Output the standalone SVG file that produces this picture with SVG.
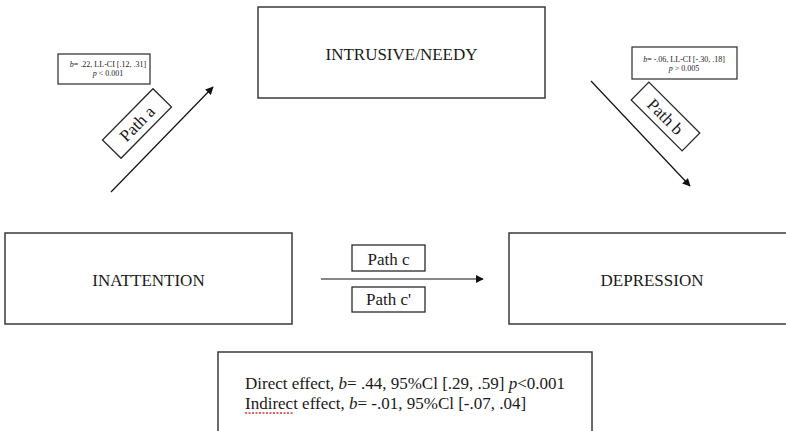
<svg xmlns="http://www.w3.org/2000/svg" width="786" height="431" viewBox="0 0 786 431">
  <style>
    .node { fill: #ffffff; stroke: #3a3a3a; stroke-width: 1.5; }
    .lbl { fill: #ffffff; stroke: #2a2a2a; stroke-width: 1.3; }
    .info { fill: #ffffff; stroke: #2a2a2a; stroke-width: 1.2; }
    .t { font-family: "Liberation Serif", "Times New Roman", serif; fill: #1a1a1a; }
    .big { font-size: 17px; }
    .small { font-size: 8px; }
    .conn { stroke: #111111; stroke-width: 1.2; fill: none; marker-end: url(#arr); }
  </style>
  <defs>
    <marker id="arr" viewBox="0 0 10 10" refX="9" refY="5" markerWidth="8" markerHeight="8" markerUnits="userSpaceOnUse" orient="auto">
      <path d="M0,0 L10,5 L0,10 Z" fill="#111111"/>
    </marker>
  </defs>
  <rect width="786" height="431" fill="#ffffff"/>

  <g id="node-intrusive">
    <rect class="node" x="258" y="7" width="287" height="91"/>
    <text class="t big" x="401.5" y="60" text-anchor="middle">INTRUSIVE/NEEDY</text>
  </g>

  <g id="node-inattention">
    <rect class="node" x="5" y="233" width="287" height="91"/>
    <text class="t big" x="148.5" y="286" text-anchor="middle">INATTENTION</text>
  </g>

  <g id="node-depression">
    <rect class="node" x="509" y="233" width="290" height="91"/>
    <text class="t big" x="652" y="286" text-anchor="middle">DEPRESSION</text>
  </g>

  <g id="connectors">
    <line class="conn" x1="111" y1="192" x2="213" y2="87"/>
    <line class="conn" x1="591" y1="81" x2="690" y2="186"/>
    <line class="conn" x1="321" y1="279" x2="483" y2="279"/>
  </g>

  <g id="label-path-a">
    <g transform="translate(137 123.5) rotate(-45.5)">
      <rect class="lbl" x="-36" y="-13" width="72" height="26"/>
      <text class="t big" x="0" y="6" text-anchor="middle">Path a</text>
    </g>
  </g>

  <g id="label-path-b">
    <g transform="translate(665.5 116.5) rotate(45)">
      <rect class="lbl" x="-36" y="-12.5" width="72" height="25"/>
      <text class="t big" x="0" y="6" text-anchor="middle">Path b</text>
    </g>
  </g>

  <g id="label-path-c">
    <rect class="lbl" x="352" y="245" width="73" height="26"/>
    <text class="t big" x="388.5" y="265" text-anchor="middle">Path c</text>
  </g>

  <g id="label-path-c-prime">
    <rect class="lbl" x="352" y="287" width="73" height="25"/>
    <text class="t big" x="388.5" y="305" text-anchor="middle">Path c'</text>
  </g>

  <g id="info-path-a">
    <rect class="info" x="58" y="54" width="92" height="30"/>
    <text class="t small" x="108" y="67" text-anchor="middle"><tspan font-style="italic">b</tspan>= .22, LL-CI [.12, .31]</text>
    <text class="t small" x="108" y="75.5" text-anchor="middle"><tspan font-style="italic">p</tspan> &lt; 0.001</text>
  </g>

  <g id="info-path-b">
    <rect class="info" x="632" y="47" width="105" height="32"/>
    <text class="t small" x="684" y="62" text-anchor="middle"><tspan font-style="italic">b</tspan>= -.06, LL-CI [-.30, .18]</text>
    <text class="t small" x="684" y="71" text-anchor="middle"><tspan font-style="italic">p</tspan> &gt; 0.005</text>
  </g>

  <g id="effects-box">
    <rect class="node" x="218" y="352" width="374" height="90"/>
    <text class="t big" x="245" y="389">Direct effect, <tspan font-style="italic">b</tspan>= .44, 95%Cl [.29, .59] <tspan font-style="italic">p</tspan>&lt;0.001</text>
    <text class="t big" x="245" y="409">Indirect effect, <tspan font-style="italic">b</tspan>= -.01, 95%Cl [-.07, .04]</text>
    <line x1="245" y1="413" x2="294" y2="413" stroke="#e03030" stroke-width="1.5" stroke-dasharray="2 1.5"/>
  </g>
</svg>
